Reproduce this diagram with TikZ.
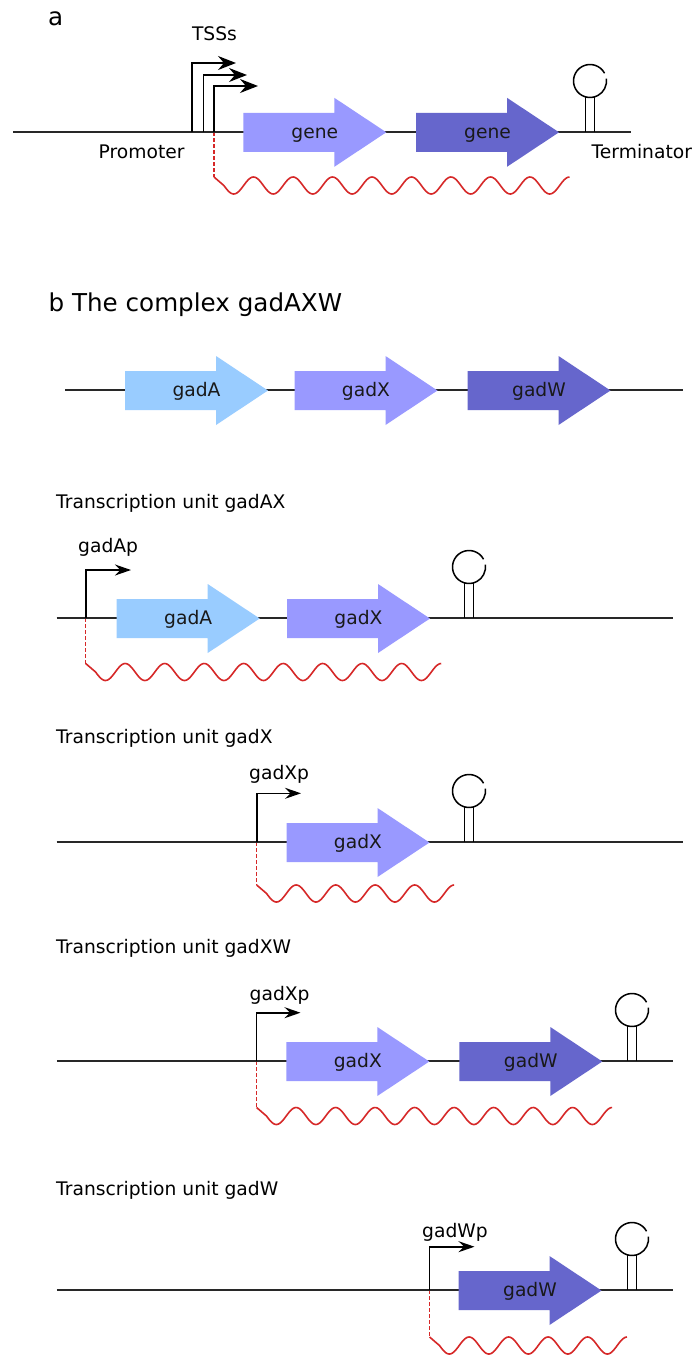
\documentclass[tikz,border=0pt]{standalone}
\usepackage{fontspec}
\setmainfont{DejaVu Sans}
\usetikzlibrary{arrows.meta}
\definecolor{cA}{RGB}{153,204,255}
\definecolor{cX}{RGB}{153,153,255}
\definecolor{cW}{RGB}{102,102,204}
\definecolor{rna}{RGB}{214,40,40}
\definecolor{bb}{RGB}{40,40,40}
\tikzset{
  backbone/.style={draw=bb, line width=1.8pt},
  hp/.style={draw=black, line width=1.5pt},
  tssa/.style={draw=black, line width=1.6pt, line join=miter, -{Stealth[length=18pt,width=14pt,inset=6pt]}},
  tssb/.style={draw=black, line width=1.6pt, line join=miter, -{Stealth[length=16pt,width=11pt,inset=5.5pt]}},
  rnadash/.style={draw=rna, line width=1.5pt, dash pattern=on 4pt off 2pt},
  rnaline/.style={draw=rna, line width=1.6pt, line join=round},
  txt/.style={inner sep=0pt, font=\fontsize{18.7}{22}\selectfont, anchor=base west},
  bigtxt/.style={inner sep=0pt, font=\fontsize{24.6}{28}\selectfont, anchor=base west},
  genelabel/.style={inner sep=0pt, font=\fontsize{18.7}{22}\selectfont, anchor=base, text=black!90}
}
% gene arrow: name, x left, y centre (down), colour, label
\newcommand{\genearrow}[5]{%
  \fill[#4] (#2,-#3+19.5) -- ++(91,0) -- ++(0,15) -- (#2+143,-#3)
     -- (#2+91,-#3-34.5) -- ++(0,15) -- (#2,-#3-19.5) -- cycle;
  \node[genelabel] (#1) at (#2+71.5,-#3-6) {#5};
}
% terminator hairpin: x centre, backbone y
\newcommand{\hairpin}[2]{%
  \draw[hp] (#1,-#2+51) ++(28:16.5) arc[start angle=28, end angle=368, radius=16.5];
  \draw[hp] (#1-4.5,-#2+35.1) -- (#1-4.5,-#2);
  \draw[hp] (#1+4.5,-#2+35.1) -- (#1+4.5,-#2);
}
% transcription start: x, backbone y, top y, tip x, style
\newcommand{\tssarrow}[5]{%
  \draw[#5] (#1,-#2) -- (#1,-#3) -- (#4,-#3);
}
% transcript: x0, backbone y, wave centre y, periods
\newcommand{\mrna}[4]{%
  \draw[rnadash] (#1,-#2) -- (#1,-#3+8.5);
  \draw[rnaline] (#1,-#3+8.5) -- (#1+9.875,-#3)
    -- plot[domain=0.25:#4, variable=\q, samples=260] ({#1+39.5*\q}, {-#3-8.5*sin(360*\q-90)});
}
\begin{document}
\begin{tikzpicture}[x=1pt,y=1pt]
\useasboundingbox (0,0) rectangle (697,-1355);
\fill[white] (0,0) rectangle (697,-1355);

% ---------- part a ----------
\node[bigtxt] (la) at (48,-25) {a};
\node[txt, anchor=base] (tsss) at (214.5,-40) {TSSs};
\mrna{214}{132}{185.5}{9}
\draw[backbone] (13,-132) -- (631,-132);
\tssarrow{192}{132}{63}{236}{tssa}
\tssarrow{203.5}{132}{75}{247}{tssa}
\tssarrow{214}{132}{86}{258}{tssa}
\genearrow{ga1}{243.3}{132.3}{cX}{gene}
\genearrow{ga2}{416}{132.3}{cW}{gene}
\hairpin{590}{132}
\node[txt] (prom) at (98.5,-158.5) {Promoter};
\node[txt] (term) at (591.5,-158.5) {Terminator};

% ---------- part b ----------
\node[bigtxt] (lb) at (48.5,-311) {b The complex gadAXW};
\draw[backbone] (65,-390) -- (683,-390);
\genearrow{g0a}{125}{390.5}{cA}{gadA}
\genearrow{g0x}{294.5}{390.5}{cX}{gadX}
\genearrow{g0w}{467.5}{390.5}{cW}{gadW}

% unit gadAX
\node[txt] (u1) at (56,-508) {Transcription unit gadAX};
\mrna{85.7}{618}{672}{9}
\draw[backbone] (56.7,-618) -- (673,-618);
\tssarrow{85.7}{618}{570}{131}{tssb}
\node[txt] (p1) at (78,-552) {gadAp};
\genearrow{g1a}{116.7}{618.5}{cA}{gadA}
\genearrow{g1x}{287}{618.5}{cX}{gadX}
\hairpin{469}{618}

% unit gadX
\node[txt] (u2) at (56,-743.3) {Transcription unit gadX};
\mrna{256.7}{842}{893.5}{5}
\draw[backbone] (56.7,-842) -- (683,-842);
\tssarrow{256.7}{842}{793.3}{301}{tssb}
\node[txt] (p2) at (249,-779) {gadXp};
\genearrow{g2x}{286.5}{842.5}{cX}{gadX}
\hairpin{469}{842}

% unit gadXW
\node[txt] (u3) at (56,-953.3) {Transcription unit gadXW};
\mrna{256.6}{1061}{1116}{9}
\draw[backbone] (56.8,-1061) -- (673,-1061);
\tssarrow{256.6}{1061}{1012.7}{300.5}{tssb}
\node[txt] (p3) at (249.5,-1000.6) {gadXp};
\genearrow{g3x}{286.3}{1061.5}{cX}{gadX}
\genearrow{g3w}{459.3}{1061.5}{cW}{gadW}
\hairpin{632}{1061}

% unit gadW
\node[txt] (u4) at (56,-1195) {Transcription unit gadW};
\mrna{429.6}{1290}{1345.5}{5}
\draw[backbone] (56.8,-1290) -- (673.3,-1290);
\tssarrow{429.6}{1290}{1246.7}{474.5}{tssb}
\node[txt] (p4) at (422,-1237.3) {gadWp};
\genearrow{g4w}{458.5}{1290.5}{cW}{gadW}
\hairpin{632}{1290}
\end{tikzpicture}
\end{document}
